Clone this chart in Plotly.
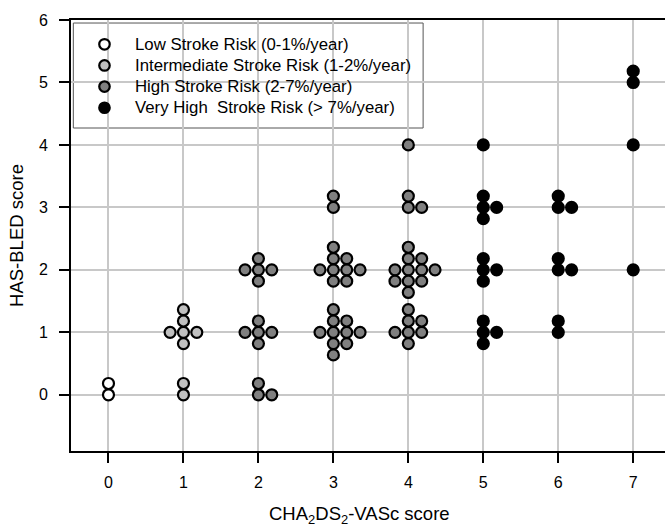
import plotly.graph_objects as go

# ---- data: number of patients per (CHA2DS2-VASc, HAS-BLED) cell, by stroke-risk group ----
low_cha = [0]
low_has = [0]
low_n = [2]

int_cha = [1, 1]
int_has = [0, 1]
int_n = [2, 6]

high_cha = [2, 2, 2, 3, 3, 3, 4, 4, 4, 4]
high_has = [0, 1, 2, 1, 2, 3, 1, 2, 3, 4]
high_n = [3, 5, 5, 10, 9, 2, 7, 11, 3, 1]

vhigh_cha = [5, 5, 5, 5, 6, 6, 6, 7, 7, 7]
vhigh_has = [1, 2, 3, 4, 1, 2, 3, 2, 4, 5]
vhigh_n = [4, 4, 4, 1, 2, 3, 3, 1, 1, 2]

group_names = ["Low Stroke Risk (0-1%/year)",
               "Intermediate Stroke Risk (1-2%/year)",
               "High Stroke Risk (2-7%/year)",
               "Very High  Stroke Risk (> 7%/year)"]
group_colors = ["white", "#c0c0c0", "#808080", "black"]

x_ticks = [0, 1, 2, 3, 4, 5, 6, 7]
y_ticks = [0, 1, 2, 3, 4, 5, 6]

# ---- swarm layout (fill order of dot slots around each cell, in dot steps) ----
SLOTS = [(0, 0), (0, 1), (1, 0), (0, -1), (-1, 0), (0, 2), (1, 1), (1, -1),
         (2, 0), (0, -2), (-1, -1), (-1, 1), (1, 2), (1, -2), (-2, 0)]
DX = 0.178   # horizontal dot step in x units
DY = 0.181   # vertical dot step in y units


def swarm(chas, hass, ns):
    xs, ys = [], []
    for c, h, n in zip(chas, hass, ns):
        for i in range(n):
            sx, sy = SLOTS[i]
            xs.append(c + sx * DX)
            ys.append(h + sy * DY)
    return xs, ys


groups = [(low_cha, low_has, low_n),
          (int_cha, int_has, int_n),
          (high_cha, high_has, high_n),
          (vhigh_cha, vhigh_has, vhigh_n)]

FONT = "Liberation Sans, Arial, sans-serif"
MARKER_SIZE = 11
MARKER_LINE = 2.2

fig = go.Figure()
for (chas, hass, ns), name, col in zip(groups, group_names, group_colors):
    xs, ys = swarm(chas, hass, ns)
    fig.add_trace(go.Scatter(
        x=xs, y=ys, mode="markers", name=name, showlegend=False,
        marker=dict(size=MARKER_SIZE, color=col,
                    line=dict(color="black", width=MARKER_LINE)),
        cliponaxis=False,
    ))

# ---- legend drawn on an overlay axis (coordinates in pixels of the plot area) ----
PLOT_W, PLOT_H = 594.3, 431.0
LEG_MX = 33.5          # marker centre from plot left
LEG_TX = 62.5          # text start from plot left
LEG_Y0 = 24.3          # first row centre from plot top
LEG_DY = 21.15         # row spacing
rows = list(range(len(group_names)))
fig.add_trace(go.Scatter(
    x=[LEG_MX] * len(rows), y=[PLOT_H - (LEG_Y0 + r * LEG_DY) for r in rows],
    xaxis="x2", yaxis="y2", mode="markers", showlegend=False, hoverinfo="skip",
    marker=dict(size=MARKER_SIZE - 0.5, color=group_colors,
                line=dict(color="black", width=MARKER_LINE)),
))
annotations = []
for r, name in zip(rows, group_names):
    annotations.append(dict(
        x=LEG_TX, y=PLOT_H - (LEG_Y0 + r * LEG_DY), xref="x2", yref="y2",
        text=name, showarrow=False, xanchor="left", yanchor="middle",
        font=dict(family=FONT, size=16.8, color="black")))
# x-axis title
annotations.append(dict(
    x=0.486, y=-0.1485, xref="paper", yref="paper",
    text="CHA<sub>2</sub>DS<sub>2</sub>-VASc score", showarrow=False,
    xanchor="center", yanchor="middle",
    font=dict(family=FONT, size=18.5, color="black")))

fig.update_layout(
    width=665, height=526,
    margin=dict(l=71, r=0, t=20, b=75),
    paper_bgcolor="white", plot_bgcolor="white",
    font=dict(family=FONT, size=16, color="black"),
    showlegend=False,
    annotations=annotations,
    xaxis=dict(
        range=[-0.5, 7.424], tickvals=x_ticks, ticktext=[str(v) for v in x_ticks],
        showgrid=True, gridcolor="#c8c8c8", gridwidth=2, zeroline=False,
        showline=True, linecolor="black", linewidth=2, mirror=True,
        ticks="outside", ticklen=10, tickwidth=2, tickcolor="black",
        tickfont=dict(family=FONT, size=16, color="black"), ticklabelstandoff=6,
    ),
    yaxis=dict(
        range=[-0.9, 6], tickvals=y_ticks, ticktext=[str(v) for v in y_ticks],
        showgrid=True, gridcolor="#c8c8c8", gridwidth=2, zeroline=False,
        showline=True, linecolor="black", linewidth=2, mirror=False,
        ticks="outside", ticklen=10, tickwidth=2, tickcolor="black",
        tickfont=dict(family=FONT, size=16, color="black"), ticklabelstandoff=8,
        title=dict(text="HAS-BLED score",
                   font=dict(family=FONT, size=18.5, color="black"), standoff=10),
    ),
    xaxis2=dict(domain=[0, 1], range=[0, PLOT_W], anchor="y2", overlaying="x",
                visible=False, fixedrange=True),
    yaxis2=dict(domain=[0, 1], range=[0, PLOT_H], anchor="x2", overlaying="y",
                visible=False, fixedrange=True),
    shapes=[dict(type="rect", xref="paper", yref="paper",
                 x0=0.0039, x1=0.5928, y0=0.7494, y1=0.993,
                 line=dict(color="#555555", width=1), fillcolor="white",
                 layer="between")],
)

fig.write_html("out.html")
